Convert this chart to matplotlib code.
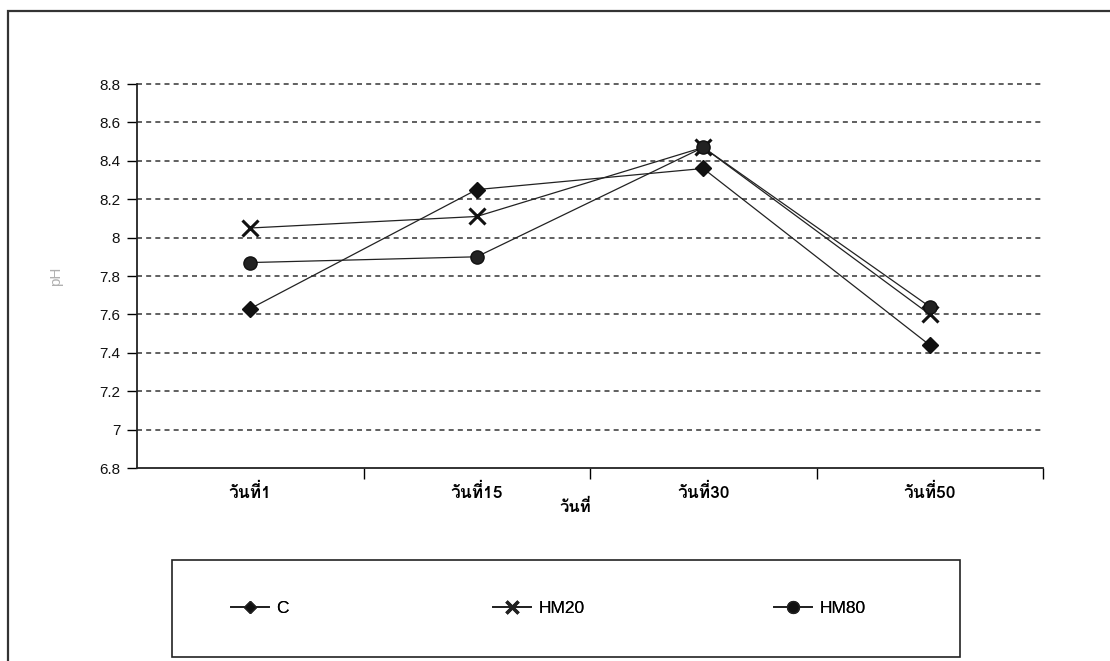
import matplotlib
matplotlib.use('Agg')
import matplotlib.pyplot as plt
from matplotlib import font_manager
from matplotlib.ft2font import FT2Font
from matplotlib.patches import Rectangle
from matplotlib.lines import Line2D

days = ['วันที่1', 'วันที่15', 'วันที่30', 'วันที่50']
ph_c = [7.63, 8.25, 8.36, 7.44]
ph_hm20 = [8.05, 8.11, 8.47, 7.60]
ph_hm80 = [7.87, 7.90, 8.47, 7.64]
series_names = ['C', 'HM20', 'HM80']
yticks = [6.8, 7, 7.2, 7.4, 7.6, 7.8, 8, 8.2, 8.4, 8.6, 8.8]
ytick_labels = ['6.8', '7', '7.2', '7.4', '7.6', '7.8', '8', '8.2', '8.4', '8.6', '8.8']


# find an installed family that has thai glyphs
def thai_family():
    for f in font_manager.fontManager.ttflist:
        try:
            if FT2Font(f.fname).get_char_index(0x0E27):
                return f.name
        except Exception:
            pass
    return None

fams = ['Liberation Sans', 'DejaVu Sans']
tf = thai_family()
if tf:
    fams = [tf] + fams
plt.rcParams['font.family'] = ['Liberation Sans', 'DejaVu Sans']

fig = plt.figure(figsize=(11.1, 6.61), dpi=100)
W, H = 1110, 661

# outer frame (cut off at right and bottom)
fig.patches.append(Rectangle((8 / W, -0.05), 1.2, 1 - 11 / H + 0.05,
                             transform=fig.transFigure, fill=False,
                             edgecolor='#333333', linewidth=1.6))

ax = fig.add_axes([137 / W, 1 - 468 / H, (1043 - 137) / W, (468 - 84) / H])
x = list(range(len(days)))

line_kw = dict(color='#222222', linewidth=0.9)
ax.plot(x, ph_c, marker='D', markersize=8.5, markerfacecolor='#111111',
        markeredgecolor='#111111', **line_kw)
ax.plot(x, ph_hm20, marker='x', markersize=11, markeredgewidth=2.2,
        markeredgecolor='#111111', **line_kw)
ax.plot(x, ph_hm80, marker='o', markersize=9.5, markerfacecolor='#222222',
        markeredgecolor='#111111', **line_kw)

ax.set_xlim(-0.5, len(days) - 0.5)
ax.set_ylim(6.8, 8.8)
ax.set_yticks(yticks)
ax.set_yticklabels(ytick_labels, fontsize=11, color='#111111')
ax.set_xticks([i + 0.5 for i in range(len(days))])
ax.set_xticklabels([])
ax.set_xticks(x, minor=True)
ax.set_xticklabels(days, minor=True, fontsize=12.5, fontweight='bold', family=fams)
ax.tick_params(axis='x', which='minor', length=0, pad=11)
ax.tick_params(axis='x', which='major', length=8, direction='out', width=1)
ax.tick_params(axis='y', length=7, direction='out', width=1, pad=5)

for v in yticks[1:]:
    ax.axhline(v, color='#444444', linestyle=(0, (3, 2.5)), linewidth=1.2,
               zorder=0, clip_on=False)

for s in ['top', 'right']:
    ax.spines[s].set_visible(False)
for s in ['left', 'bottom']:
    ax.spines[s].set_linewidth(1.3)
    ax.spines[s].set_color('#222222')

ax.set_ylabel('pH', fontsize=11, color='#b0b0b0', labelpad=26)
fig.text(575 / W, 1 - 507 / H, 'วันที่', ha='center', va='center',
         fontsize=12, fontweight='bold', family=fams)

# legend box
fig.patches.append(Rectangle((172 / W, 1 - 657 / H), (960 - 172) / W, (657 - 560) / H,
                             transform=fig.transFigure, fill=False,
                             edgecolor='#222222', linewidth=1.2))
handles = [
    Line2D([], [], color='#222222', lw=1.3, marker='D', markersize=6.5, markerfacecolor='#111111'),
    Line2D([], [], color='#222222', lw=1.3, marker='x', markersize=9, markeredgewidth=2.4),
    Line2D([], [], color='#222222', lw=1.3, marker='o', markersize=8.5, markerfacecolor='#111111'),
]
leg_x = [231, 493, 774]
for h, name, lx in zip(handles, series_names, leg_x):
    lg = fig.legend([h], [name], loc='center left', bbox_to_anchor=(lx / W, 1 - 608 / H),
                    frameon=False, fontsize=12.5, handlelength=2.2, handletextpad=0.4,
                    borderpad=0, borderaxespad=0)
    fig.add_artist(lg)

fig.savefig('out.png', dpi=100, facecolor='white')
